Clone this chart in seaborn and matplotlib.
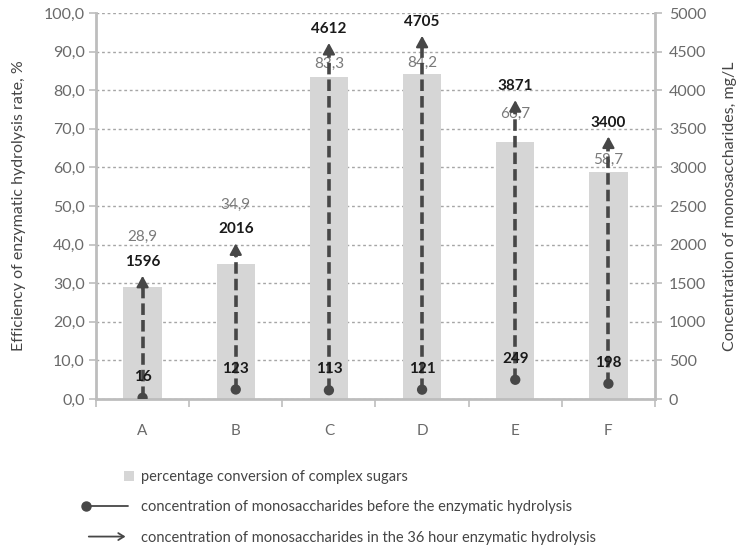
import numpy as np
import pandas as pd
import matplotlib
matplotlib.use("Agg")
import matplotlib.pyplot as plt
import seaborn as sns
from matplotlib.lines import Line2D
from matplotlib.patches import Patch, Rectangle, FancyArrowPatch
from matplotlib.legend_handler import HandlerBase
from matplotlib.ticker import FuncFormatter, MultipleLocator, FixedLocator

# ---------------- data ----------------
categories = ["A", "B", "C", "D", "E", "F"]
conversion_pct = [28.9, 34.9, 83.3, 84.2, 66.7, 58.7]
conc_before = [16, 123, 113, 121, 249, 198]
conc_after = [1596, 2016, 4612, 4705, 3871, 3400]

legend_labels = [
    "percentage conversion of complex sugars",
    "concentration of monosaccharides before the enzymatic hydrolysis",
    "concentration of monosaccharides in the 36 hour enzymatic hydrolysis",
]
left_label = "Efficiency of enzymatic hydrolysis rate, %"
right_label = "Concentration of monosaccharides, mg/L"

# label offsets (pixels) above bar tops, as in the reference
pct_label_offsets = [51, 59, 14, 11, 28, 13]

# ---------------- style ----------------
sns.set_theme(style="white")
plt.rcParams["font.family"] = ["Lato", "DejaVu Sans"]

BAR = "#d6d6d6"
DARK = "#474747"
AXC = "#bdbdbd"
TXT = "#6a6a6a"

fig = plt.figure(figsize=(7.4, 5.48), dpi=100)
ax = fig.add_axes([96 / 740, 1 - 399 / 548, (655 - 96) / 740, (399 - 13) / 548])

df = pd.DataFrame({"cat": categories, "pct": conversion_pct})
sns.barplot(data=df, x="cat", y="pct", color=BAR, width=0.41, ax=ax,
            saturation=1, edgecolor="none", zorder=2)

ax.set_ylim(0, 100)
ax.set_xlim(-0.5, len(categories) - 0.5)
ax.yaxis.set_major_locator(MultipleLocator(10))
ax.yaxis.set_major_formatter(FuncFormatter(lambda v, p: f"{v:.1f}".replace(".", ",")))
ax.set_axisbelow(True)
ax.grid(axis="y", color="#a6a6a6", linestyle=(0, (2, 2)), linewidth=1.0)
ax.grid(axis="x", visible=False)
ax.set_xlabel("")
ax.set_ylabel(left_label, fontsize=11.5, color="#454545", labelpad=13)

for s in ["top", "right"]:
    ax.spines[s].set_visible(False)
for s in ["left", "bottom"]:
    ax.spines[s].set_color(AXC)
    ax.spines[s].set_linewidth(2)

ax.tick_params(axis="y", which="major", length=5, width=1.2, color=AXC,
               labelsize=11.5, labelcolor=TXT, direction="out", left=True, pad=3)
ax.tick_params(axis="x", which="major", length=0, labelsize=11, labelcolor=TXT, pad=18)
ax.xaxis.set_minor_locator(FixedLocator(np.arange(-0.5, len(categories), 1.0)))
ax.tick_params(axis="x", which="minor", length=6, width=1.2, color=AXC,
               direction="out", bottom=True)

# bar value labels
for i, (v, off) in enumerate(zip(conversion_pct, pct_label_offsets)):
    ax.annotate(f"{v:.1f}".replace(".", ","), xy=(i, v), xytext=(0, off),
                textcoords="offset pixels", ha="center", va="center",
                fontsize=11, color="#7a7a7a", zorder=5)

# ---------------- secondary axis ----------------
ax2 = ax.twinx()
ax2.set_ylim(0, 5000)
ax2.set_xlim(-0.5, len(categories) - 0.5)
ax2.yaxis.set_major_locator(MultipleLocator(500))
ax2.grid(False)
for s in ["top", "left", "bottom"]:
    ax2.spines[s].set_visible(False)
ax2.spines["right"].set_color(AXC)
ax2.spines["right"].set_linewidth(2)
ax2.tick_params(axis="y", length=5, width=1.2, color=AXC, labelsize=11.5,
                labelcolor=TXT, direction="out", right=True, pad=5)

xs = np.arange(len(categories))
for i, (b, a) in enumerate(zip(conc_before, conc_after)):
    ax2.plot([i, i], [b, a - 130], color=DARK, linewidth=2.6,
             linestyle=(0, (3.2, 1.4)), zorder=3, solid_capstyle="butt")
    ax2.annotate("", xy=(i, a), xytext=(i, a - 170),
                 arrowprops=dict(arrowstyle="-|>,head_length=0.55,head_width=0.3",
                                 color=DARK, lw=1.6, shrinkA=0, shrinkB=0),
                 zorder=4)

pts = pd.DataFrame({"x": xs, "before": conc_before})
sns.scatterplot(data=pts, x="x", y="before", ax=ax2, color=DARK, s=55,
                edgecolor="none", zorder=5, legend=False)
ax2.set_xlabel("")
ax2.set_ylabel(right_label, fontsize=11.5, color="#454545", labelpad=12)

for i, (b, a) in enumerate(zip(conc_before, conc_after)):
    ax2.annotate(f"{b}", xy=(i, b), xytext=(0, 21), textcoords="offset pixels",
                 ha="center", va="center", fontsize=11, fontweight="bold",
                 color="#1a1a1a", zorder=6)
    ax2.annotate(f"{a}", xy=(i, a), xytext=(0, 14), textcoords="offset pixels",
                 ha="center", va="center", fontsize=11, fontweight="bold",
                 color="#1a1a1a", zorder=6)

# ---------------- legend ----------------
class HandlerSquare(HandlerBase):
    def create_artists(self, legend, orig, xd, yd, w, h, fs, trans):
        side = h * 1.0
        r = Rectangle((w - xd - side + 4, (h - side) / 2 - yd), side, side,
                      facecolor=BAR, edgecolor="none", transform=trans)
        return [r]


class HandlerDotLine(HandlerBase):
    def create_artists(self, legend, orig, xd, yd, w, h, fs, trans):
        y = h / 2 - yd
        ln = Line2D([-xd, w - xd], [y, y], color=DARK, lw=1.3, transform=trans)
        dot = Line2D([-xd], [y], marker="o", markersize=6.5, color=DARK,
                     linestyle="none", transform=trans)
        return [ln, dot]


class HandlerArrow(HandlerBase):
    def create_artists(self, legend, orig, xd, yd, w, h, fs, trans):
        y = h / 2 - yd
        ar = FancyArrowPatch((-xd, y), (w - xd, y), arrowstyle="->,head_length=4,head_width=2.5",
                             color=DARK, lw=1.3, transform=trans, mutation_scale=1)
        return [ar]


h1 = Patch(color=BAR)
h2 = Line2D([], [], color=DARK)
h3 = Line2D([], [], color="k")
leg = fig.legend([h1, h2, h3], legend_labels,
                 handler_map={h1: HandlerSquare(), h2: HandlerDotLine(), h3: HandlerArrow()},
                 loc="upper left", bbox_to_anchor=(86 / 740, 1 - 470 / 548),
                 frameon=False, fontsize=10.5, handlelength=2.9, handletextpad=0.9,
                 labelspacing=1.12, borderpad=0, borderaxespad=0)
for t in leg.get_texts():
    t.set_color("#454545")

fig.savefig("out.png", dpi=100)
